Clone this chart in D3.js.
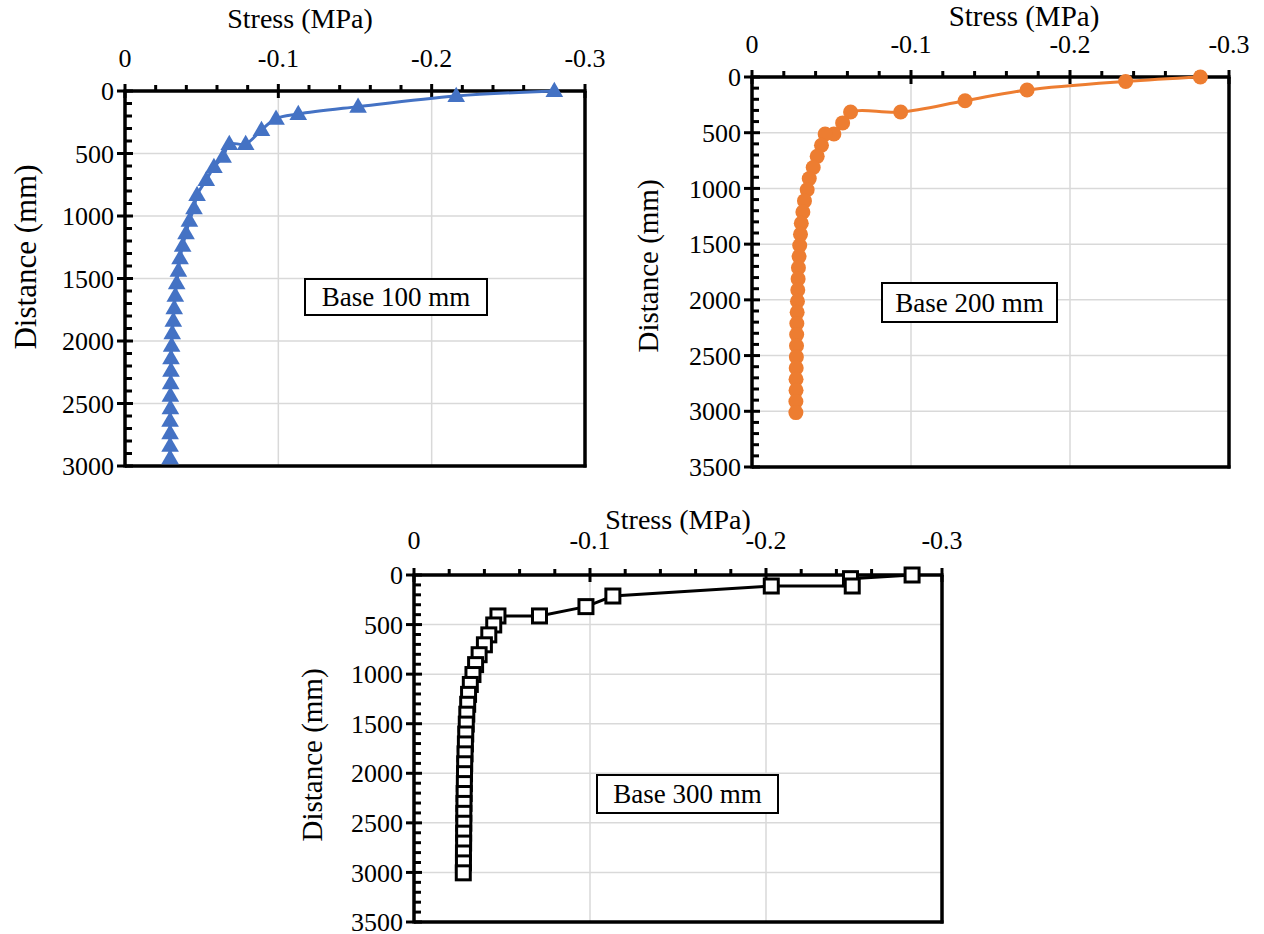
<!DOCTYPE html>
<html>
<head>
<meta charset="utf-8">
<script src="https://cdn.jsdelivr.net/npm/d3@7"></script>
<style>
  body { margin: 0; background: #fff; }
  svg text { font-family: 'Liberation Serif', Tinos, 'Times New Roman', Times, serif; fill: #000; }
</style>
</head>
<body>
<div id="chart"></div>
<script>
// tick labels
var xTicks = [0, -0.1, -0.2, -0.3];
var yTicks3000 = [0, 500, 1000, 1500, 2000, 2500, 3000];
var yTicks3500 = [0, 500, 1000, 1500, 2000, 2500, 3000, 3500];

// Base 100 mm
var dist1 = [0, 40, 125, 184, 221, 312, 424, 424, 525, 608, 712, 832,
  938, 1038, 1138, 1238, 1338, 1438, 1538, 1638, 1738, 1838, 1938, 2038,
  2138, 2238, 2338, 2438, 2538, 2638, 2738, 2838, 2938];
var stress1 = [-0.280, -0.216, -0.152, -0.113, -0.0985, -0.089, -0.0787, -0.068, -0.064, -0.058, -0.053, -0.047,
  -0.045, -0.042, -0.0398, -0.0376, -0.0359, -0.0348, -0.0337, -0.0328, -0.0321, -0.0315, -0.0308, -0.0304,
  -0.030, -0.030, -0.0298, -0.0296, -0.0296, -0.0294, -0.0294, -0.0294, -0.0294];

// Base 200 mm
var dist2 = [0, 40, 117, 213, 314, 314, 412, 512, 512,
  612, 712, 812, 912, 1012, 1112, 1212, 1312, 1412, 1512, 1612, 1712, 1812,
  1912, 2012, 2112, 2212, 2312, 2412, 2512, 2612, 2712, 2812, 2912, 3012];
var stress2 = [-0.282, -0.235, -0.173, -0.134, -0.0935, -0.062, -0.057, -0.0515, -0.046,
  -0.0437, -0.041, -0.0385, -0.036, -0.0347, -0.033, -0.032, -0.031, -0.0305, -0.030, -0.0296, -0.0292, -0.029,
  -0.0288, -0.0286, -0.0284, -0.0282, -0.0281, -0.028, -0.0279, -0.0278, -0.0277, -0.0277, -0.0276, -0.0276];

// Base 300 mm
var dist3 = [0, 37, 111, 111, 212, 319, 413, 413,
  504, 604, 704, 804, 904, 1004, 1104, 1204, 1304, 1404, 1504, 1604, 1704,
  1804, 1904, 2004, 2104, 2204, 2304, 2404, 2504, 2604, 2704, 2804, 2904, 3004];
var stress3 = [-0.283, -0.248, -0.249, -0.203, -0.113, -0.0977, -0.0713, -0.0477,
  -0.0453, -0.0425, -0.040, -0.037, -0.035, -0.0335, -0.032, -0.031, -0.0305, -0.030, -0.0297, -0.0294, -0.0292,
  -0.029, -0.0288, -0.0287, -0.0286, -0.0285, -0.0284, -0.0283, -0.0283, -0.0282, -0.0282, -0.0281, -0.0281, -0.028];

var width = 1264, height = 934;
var FONT = "'Liberation Serif', Tinos, 'Times New Roman', Times, serif";

var svg = d3.select("#chart").append("svg")
    .attr("width", width)
    .attr("height", height)
    .attr("font-family", FONT);

function drawPanel(o) {
  var x = d3.scaleLinear().domain([0, -0.3]).range([o.left, o.right]);
  var y = d3.scaleLinear().domain([0, o.ymax]).range([o.top, o.bottom]);
  var g = svg.append("g");
  var fs = o.fs;

  // grid
  g.selectAll(".gx").data(xTicks.slice(1, -1)).enter().append("line")
    .attr("x1", d => x(d)).attr("x2", d => x(d))
    .attr("y1", o.top).attr("y2", o.bottom)
    .style("stroke", "#d9d9d9").style("stroke-width", 1.5);
  g.selectAll(".gy").data(o.yTicks.slice(1, -1)).enter().append("line")
    .attr("x1", o.left).attr("x2", o.right)
    .attr("y1", d => y(d)).attr("y2", d => y(d))
    .style("stroke", "#d9d9d9").style("stroke-width", 1.5);

  // border right / bottom
  g.append("line").attr("x1", o.right).attr("x2", o.right).attr("y1", o.top).attr("y2", o.bottom + 1.5)
    .style("stroke", "#000").style("stroke-width", 3.5);
  g.append("line").attr("x1", o.left).attr("x2", o.right + 1.5).attr("y1", o.bottom).attr("y2", o.bottom)
    .style("stroke", "#000").style("stroke-width", 3.5);

  // minor ticks
  var xMinor = d3.range(0, 16).map(i => -i * 0.02).filter(v => Math.abs(v * 10 - Math.round(v * 10)) > 1e-6);
  g.selectAll(".mx").data(xMinor).enter().append("line")
    .attr("x1", d => x(d)).attr("x2", d => x(d))
    .attr("y1", o.top).attr("y2", o.top - 6)
    .style("stroke", "#000").style("stroke-width", 3);
  var yMinor = d3.range(0, o.ymax + 1, 100).filter(v => v % 500 !== 0);
  g.selectAll(".my").data(yMinor).enter().append("line")
    .attr("x1", o.left).attr("x2", o.left + 7)
    .attr("y1", d => y(d)).attr("y2", d => y(d))
    .style("stroke", "#000").style("stroke-width", 3);

  // major ticks
  g.selectAll(".tx").data(xTicks).enter().append("line")
    .attr("x1", d => x(d)).attr("x2", d => x(d))
    .attr("y1", o.top - 7).attr("y2", o.top + 7)
    .style("stroke", "#000").style("stroke-width", 3);
  g.selectAll(".ty").data(o.yTicks).enter().append("line")
    .attr("x1", o.left - 8).attr("x2", o.left + 8)
    .attr("y1", d => y(d)).attr("y2", d => y(d))
    .style("stroke", "#000").style("stroke-width", 3);

  // axis lines
  g.append("line").attr("x1", o.left - 1.5).attr("x2", o.right + 1.5).attr("y1", o.top).attr("y2", o.top)
    .style("stroke", "#000").style("stroke-width", 3.5);
  g.append("line").attr("x1", o.left).attr("x2", o.left).attr("y1", o.top).attr("y2", o.bottom + 1.5)
    .style("stroke", "#000").style("stroke-width", 3.5);

  // tick labels
  g.selectAll(".lx").data(xTicks).enter().append("text")
    .attr("x", d => x(d)).attr("y", o.xLabelY)
    .attr("text-anchor", "middle").attr("font-family", FONT).style("font-size", fs + "px")
    .text(d => String(d));
  g.selectAll(".ly").data(o.yTicks).enter().append("text")
    .attr("x", o.left - 11).attr("y", d => y(d))
    .attr("dy", "0.35em")
    .attr("text-anchor", "end").attr("font-family", FONT).style("font-size", fs + "px")
    .text(d => String(d));

  // axis titles
  g.append("text").attr("x", o.xTitleX).attr("y", o.xTitleY)
    .attr("text-anchor", "middle").attr("font-family", FONT).style("font-size", o.tfs + "px")
    .text("Stress (MPa)");
  g.append("text")
    .attr("transform", "translate(" + o.yTitleX + "," + o.yTitleY + ") rotate(-90)")
    .attr("text-anchor", "middle").attr("dy", "0.35em").attr("font-family", FONT).style("font-size", o.yfs + "px")
    .text("Distance (mm)");

  // series
  var pts = o.dist.map((d, i) => ({ d: d, s: o.stress[i] }));
  var line = d3.line().x(p => x(p.s)).y(p => y(p.d)).curve(o.curve);
  g.append("path").datum(pts).attr("d", line)
    .style("fill", "none").style("stroke", o.color).style("stroke-width", 3);

  if (o.marker === "triangle") {
    var tri = d3.symbol().type(d3.symbolTriangle).size(135);
    g.selectAll(".m").data(pts).enter().append("path")
      .attr("d", tri)
      .attr("transform", p => "translate(" + x(p.s) + "," + (y(p.d) + 1) + ")")
      .style("fill", o.color);
  } else if (o.marker === "circle") {
    g.selectAll(".m").data(pts).enter().append("circle")
      .attr("cx", p => x(p.s)).attr("cy", p => y(p.d)).attr("r", 7.5)
      .style("fill", o.color);
  } else {
    g.selectAll(".m").data(pts).enter().append("rect")
      .attr("x", p => x(p.s) - 7).attr("y", p => y(p.d) - 7)
      .attr("width", 14).attr("height", 14)
      .style("fill", "#fff").style("stroke", "#000").style("stroke-width", 3);
  }

  // label box
  var b = o.box;
  g.append("rect").attr("x", b[0]).attr("y", b[1]).attr("width", b[2]).attr("height", b[3])
    .style("fill", "#fff").style("stroke", "#000").style("stroke-width", 2);
  g.append("text").attr("x", b[0] + b[2] / 2).attr("y", b[1] + b[3] / 2)
    .attr("dy", "0.35em").attr("text-anchor", "middle").attr("font-family", FONT).style("font-size", o.bfs + "px")
    .text(o.label);
}

drawPanel({
  left: 125, right: 585, top: 91, bottom: 466, ymax: 3000, yTicks: yTicks3000,
  dist: dist1, stress: stress1, color: "#4472C4", marker: "triangle",
  curve: d3.curveCatmullRom.alpha(0.5),
  fs: 26, tfs: 28, yfs: 31, bfs: 27, xLabelY: 67, xTitleX: 300, xTitleY: 28, yTitleX: 25, yTitleY: 257,
  box: [305, 279, 182, 36], label: "Base 100 mm"
});

drawPanel({
  left: 752, right: 1229, top: 77, bottom: 467, ymax: 3500, yTicks: yTicks3500,
  dist: dist2, stress: stress2, color: "#ED7D31", marker: "circle",
  curve: d3.curveCatmullRom.alpha(0.5),
  fs: 26, tfs: 29, yfs: 29, bfs: 27, xLabelY: 53, xTitleX: 1024, xTitleY: 26, yTitleX: 648, yTitleY: 266,
  box: [882, 283, 175, 39], label: "Base 200 mm"
});

drawPanel({
  left: 414, right: 942, top: 575, bottom: 922, ymax: 3500, yTicks: yTicks3500,
  dist: dist3, stress: stress3, color: "#000", marker: "square",
  curve: d3.curveLinear,
  fs: 26, tfs: 28, yfs: 29, bfs: 27, xLabelY: 549, xTitleX: 678, xTitleY: 529, yTitleX: 312, yTitleY: 755,
  box: [597, 775, 181, 38], label: "Base 300 mm"
});
</script>
</body>
</html>
